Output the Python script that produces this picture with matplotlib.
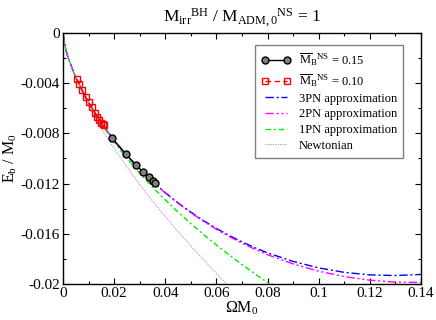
import numpy as np
import matplotlib
matplotlib.use("Agg")
from matplotlib import pyplot as plt
from matplotlib.ticker import MultipleLocator, FuncFormatter

plt.rcParams['font.family'] = 'Liberation Serif'
plt.rcParams['mathtext.fontset'] = 'custom'
plt.rcParams['mathtext.rm'] = 'Liberation Serif'
plt.rcParams['mathtext.it'] = 'Liberation Serif:italic'

# sequence data (M_B = 0.15 and 0.10)
om15 = [0.0190, 0.0246, 0.0287, 0.0314, 0.0335, 0.0351, 0.0360]
eb15 = [-0.00834, -0.00967, -0.01054, -0.01110, -0.01150, -0.01177, -0.01198]

om10 = [0.00534, 0.00639, 0.00743, 0.00886, 0.01004, 0.01121,
        0.01238, 0.01343, 0.01421, 0.01499, 0.01564, 0.01616]
eb10 = [-0.00367, -0.00406, -0.00454, -0.00513, -0.00553, -0.00592,
        -0.00635, -0.00667, -0.00693, -0.00714, -0.00728, -0.00736]

# PN curves
om_pn = [0, 0.001, 0.002, 0.005, 0.01, 0.015, 0.02, 0.025, 0.03, 0.035, 0.04,
         0.045, 0.05, 0.055, 0.06, 0.065, 0.07, 0.075, 0.08, 0.09, 0.1,
         0.11, 0.12, 0.13, 0.14]
eb_3pn = [0, -0.00124, -0.001959, -0.003564, -0.005559, -0.007166, -0.008544,
          -0.009759, -0.010847, -0.011830, -0.012723, -0.013536, -0.014279,
          -0.014958, -0.015575, -0.016135, -0.016645, -0.017104, -0.017522,
          -0.018202, -0.018718, -0.019072, -0.019273, -0.019327, -0.019239]
eb_2pn = [0, -0.00124, -0.001959, -0.003564, -0.005560, -0.007168, -0.008548,
          -0.009766, -0.010857, -0.011846, -0.012745, -0.013567, -0.014320,
          -0.015011, -0.015642, -0.016218, -0.016746, -0.017225, -0.017666,
          -0.018399, -0.018978, -0.019408, -0.019697, -0.019852, -0.019878]

om_1pn = [0, 0.001, 0.002, 0.005, 0.01, 0.015, 0.02, 0.025, 0.03, 0.035, 0.04,
          0.045, 0.05, 0.055, 0.06, 0.065, 0.07, 0.075, 0.08, 0.081]
eb_1pn = [0, -0.00124, -0.001960, -0.003573, -0.005594, -0.007246, -0.008687,
          -0.009983, -0.011170, -0.012272, -0.013302, -0.014272, -0.015190,
          -0.016063, -0.016895, -0.017688, -0.018451, -0.019182, -0.019887,
          -0.020025]

om_n = [0, 0.001, 0.002, 0.005, 0.01, 0.015, 0.02, 0.025, 0.03, 0.035, 0.04,
        0.045, 0.05, 0.055, 0.06, 0.064]
eb_n = [0, -0.00125, -0.001984, -0.003655, -0.005802, -0.007603, -0.009210,
        -0.010687, -0.012069, -0.013375, -0.014620, -0.015814, -0.016965,
        -0.018079, -0.019158, -0.020000]

fig = plt.figure(figsize=(4.36, 3.2), dpi=100)
ax = fig.add_axes([0.1445, 0.1125, 0.8211, 0.7844])

p1, = ax.plot(om15, eb15, '-', color='black', lw=1.0, marker='o', ms=5,
              mfc='#808080', mec='black', mew=1.0, zorder=5)
p2, = ax.plot(om10, eb10, '--', color='red', lw=1.0, dashes=(4, 2.5),
              marker='s', ms=5, mfc='none', mec='red', mew=1.0, zorder=4)
p3, = ax.plot(om_pn, eb_3pn, color='blue', lw=1.0, dashes=(6, 2, 1.5, 2))
p4, = ax.plot(om_pn, eb_2pn, color='magenta', lw=1.0,
              dashes=(6, 2, 1.5, 2, 1.5, 2))
p5, = ax.plot(om_1pn, eb_1pn, color='#00ee00', lw=1.0, dashes=(4, 2, 1.5, 2))
p6, = ax.plot(om_n, eb_n, color='#c080f0', lw=0.8, dashes=(1, 1.2))

ax.set_xlim(0, 0.14)
ax.set_ylim(-0.02, 0)
ax.xaxis.set_major_locator(MultipleLocator(0.02))
ax.xaxis.set_minor_locator(MultipleLocator(0.01))
ax.yaxis.set_major_locator(MultipleLocator(0.004))
ax.yaxis.set_minor_locator(MultipleLocator(0.002))
fmt = FuncFormatter(lambda v, pos: '%g' % round(v, 6))
ax.xaxis.set_major_formatter(fmt)
ax.yaxis.set_major_formatter(fmt)
ax.tick_params(which='both', direction='in', top=True, right=True,
               labelsize=11, width=0.8)
ax.tick_params(axis='x', pad=2)
ax.tick_params(axis='y', pad=2)
ax.tick_params(which='major', length=4.5)
ax.tick_params(which='minor', length=2.2)
for s in ax.spines.values():
    s.set_linewidth(1.0)

ax.set_xlabel(r'$\Omega$M$_0$', fontsize=11.5, labelpad=0)
ax.set_ylabel(r'E$_{\rm b}$ / M$_0$', fontsize=11.5, labelpad=1)
ax.set_title(r'M$_{\rm irr}{}^{\rm BH}$ / M$_{\rm ADM,0}{}^{\rm NS}$ = 1',
             fontsize=12.5, pad=8)

leg = ax.legend([p1, p2, p3, p4, p5, p6],
                [r'$\overline{\rm M}_{\rm B}{}^{\rm NS}$ = 0.15',
                 r'$\overline{\rm M}_{\rm B}{}^{\rm NS}$ = 0.10',
                 '3PN approximation', '2PN approximation',
                 '1PN approximation', 'Newtonian'],
                loc='upper left', bbox_to_anchor=(0.536, 0.952),
                fontsize=9, numpoints=2, handlelength=2.4,
                fancybox=False, framealpha=1, edgecolor='#808080',
                borderpad=0.5, labelspacing=0.3, handletextpad=0.6,
                borderaxespad=0)
leg.get_frame().set_linewidth(1.0)

fig.savefig('out.png', dpi=100)
